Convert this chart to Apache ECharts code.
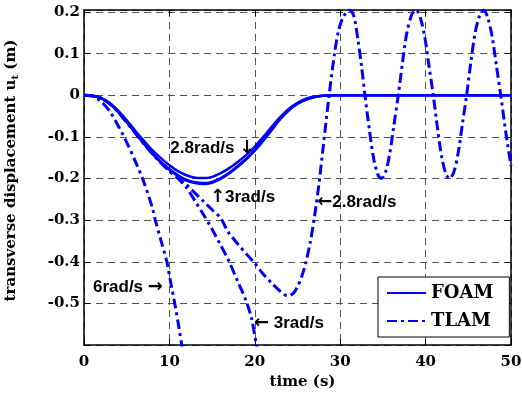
<!DOCTYPE html>
<html>
<head>
<meta charset="UTF-8">
<title>displacement</title>
<script type="text/javascript" src="https://cdn.jsdelivr.net/npm/echarts@6/dist/echarts.min.js"></script>
</head>
<body style="margin:0">
<div id="main" style="width: 522px; height: 396px"></div>

<script type="text/javascript">
	// FOAM, solid lines [time, ut]
	var foam28 = [[0,0],[1,-0.001],[2,-0.006],[3,-0.018],[4,-0.037],[5,-0.06],[6,-0.085],[7,-0.109],[8,-0.132],[9,-0.151],[10,-0.168],[11,-0.182],[12,-0.192],[13,-0.198],[14,-0.199],[15,-0.196],[16,-0.187],[17,-0.175],[18,-0.16],[19,-0.143],[20,-0.123],[21,-0.1],[22,-0.075],[23,-0.052],[24,-0.032],[25,-0.018],[26,-0.008],[27,-0.003],[28,-0.001],[29,0],[35,0],[40,0],[45,0],[50,0]];
	var foam6 = [[0,0],[1,-0.001],[2,-0.007],[3,-0.02],[4,-0.04],[5,-0.064],[6,-0.09],[7,-0.115],[8,-0.139],[9,-0.16],[10,-0.177],[11,-0.192],[12,-0.203],[13,-0.209],[14,-0.211],[15,-0.208],[16,-0.199],[17,-0.186],[18,-0.17],[19,-0.152],[20,-0.131],[21,-0.107],[22,-0.081],[23,-0.055],[24,-0.035],[25,-0.02],[26,-0.01],[27,-0.004],[28,-0.001],[29,0],[35,0],[40,0],[45,0],[50,0]];
	var foam3 = [[0,0],[1,-0.001],[2,-0.007],[3,-0.02],[4,-0.04],[5,-0.064],[6,-0.09],[7,-0.116],[8,-0.14],[9,-0.161],[10,-0.179],[11,-0.194],[12,-0.205],[13,-0.211],[14,-0.213],[15,-0.21],[16,-0.201],[17,-0.188],[18,-0.172],[19,-0.154],[20,-0.133],[21,-0.109],[22,-0.083],[23,-0.057],[24,-0.036],[25,-0.02],[26,-0.01],[27,-0.004],[28,-0.001],[29,0],[35,0],[40,0],[45,0],[50,0]];

	// TLAM, dash-dot lines
	var tlam28 = [[0,0],[1,-0.001],[2,-0.007],[3,-0.02],[4,-0.04],[5,-0.065],[6,-0.09],[7,-0.116],[8,-0.14],[9,-0.162],[10,-0.181],[11,-0.198],[12,-0.215],[13,-0.235],[14,-0.255],[15,-0.275],[16,-0.295],[16.7,-0.322],[17,-0.332],[18,-0.357],[19,-0.381],[20,-0.404],[21,-0.43],[22,-0.452],[23,-0.471],[23.85,-0.482],[24.5,-0.476],[25,-0.46],[25.5,-0.435],[26,-0.4],[26.5,-0.352],[27,-0.29],[27.5,-0.215],[28,-0.125],[28.7,0],[29.3,0.095],[29.8,0.155],[30.4,0.19],[31.1,0.205],[31.6,0.19],[32.1,0.13],[32.5,0.07],[32.9,0],[33.4,-0.08],[33.9,-0.15],[34.4,-0.19],[34.8,-0.2],[35.3,-0.185],[35.8,-0.14],[36.3,-0.07],[36.8,0],[37.3,0.08],[37.8,0.15],[38.4,0.195],[38.9,0.205],[39.4,0.185],[39.9,0.14],[40.4,0.07],[40.9,0],[41.4,-0.08],[41.9,-0.15],[42.4,-0.19],[42.8,-0.2],[43.3,-0.185],[43.8,-0.14],[44.3,-0.07],[44.8,0],[45.3,0.08],[45.8,0.15],[46.3,0.19],[46.8,0.205],[47.3,0.185],[47.8,0.14],[48.3,0.07],[48.8,0],[49.4,-0.09],[50,-0.17]];
	var tlam3 = [[0,0],[1,-0.001],[2,-0.007],[3,-0.02],[4,-0.04],[5,-0.065],[6,-0.09],[7,-0.116],[8,-0.14],[9,-0.162],[10,-0.182],[11,-0.2],[12,-0.222],[13,-0.254],[14,-0.287],[15,-0.322],[16,-0.36],[17,-0.4],[18,-0.447],[19,-0.495],[19.6,-0.535],[20.2,-0.6],[20.6,-0.64]];
	var tlam6 = [[0,0],[1,-0.002],[2,-0.015],[3,-0.038],[4,-0.073],[5,-0.113],[6,-0.158],[7,-0.208],[8,-0.27],[8.35,-0.3],[9,-0.348],[9.7,-0.4],[10.2,-0.455],[10.65,-0.503],[11.1,-0.556],[11.45,-0.6],[11.8,-0.64]];

	// text labels: [text, time, ut] (left edge, middle); {a|..} is the arrow
	var notes = [
		['2.8rad/s {a|\u2193}', 10.1, -0.127],
		['{a|\u2191}3rad/s', 14.75, -0.245],
		['{a|\u2190}2.8rad/s', 27.3, -0.257],
		['6rad/s {a|\u2192}', 1.05, -0.461],
		['{a|\u2190} 3rad/s', 19.9, -0.548]
	];

	var serif = 'DejaVu Serif';
	var blue = '#0000ff';
	var gridDash = {color: '#555', width: 1, type: [7, 5]};

	function mkSeries(name, data, dashed) {
		return {
			name: name,
			type: 'line',
			data: data,
			symbol: 'none',
			smooth: 0.3,
			animation: false,
			lineStyle: {color: blue, width: dashed ? 3 : 2.5, type: dashed ? [10, 4, 3, 4] : 'solid'},
			itemStyle: {color: blue}
		};
	}

	var mychart = echarts.init(document.getElementById('main'));
	var option = {
		animation: false,
		grid: {left: 84, right: 11, top: 10, bottom: 51, outerBoundsMode: 'none'},
		legend: {
			data: ['FOAM', 'TLAM'],
			orient: 'vertical',
			left: 378, top: 277,
			padding: [7, 16, 7, 8],
			itemWidth: 39, itemHeight: 14, itemGap: 10,
			backgroundColor: '#fff',
			borderColor: '#000', borderWidth: 1, borderRadius: 0,
			selectedMode: false,
			itemStyle: {color: 'rgba(0,0,0,0)', borderWidth: 0, opacity: 0},
			textStyle: {fontFamily: serif, fontWeight: 'bold', fontSize: 18, color: '#000'}
		},
		xAxis: [{
			type: 'value', min: 0, max: 50, interval: 10,
			name: 'time (s)', nameLocation: 'middle', nameGap: 20,
			nameTextStyle: {fontFamily: serif, fontWeight: 'bold', fontSize: 15, color: '#000', padding: [0, 0, 0, 10]},
			axisLine: {onZero: false, lineStyle: {color: '#000', width: 1.5}},
			axisTick: {inside: true, length: 6, lineStyle: {color: '#000'}},
			axisLabel: {margin: 10, fontFamily: serif, fontWeight: 'bold', fontSize: 15, color: '#000'},
			splitLine: {show: true, lineStyle: gridDash}
		}, {
			type: 'value', position: 'top', min: 0, max: 50, interval: 10,
			axisLine: {onZero: false, lineStyle: {color: '#000', width: 1.5}},
			axisTick: {inside: true, length: 6, lineStyle: {color: '#000'}},
			axisLabel: {show: false}, splitLine: {show: false}
		}],
		yAxis: [{
			type: 'value', min: -0.6, max: 0.205, interval: 0.1,
			name: 'transverse displacement u{sub|t} (m)', nameLocation: 'middle', nameGap: 64,
			nameTextStyle: {
				fontFamily: serif, fontWeight: 'bold', fontSize: 15, color: '#000', lineHeight: 18,
				padding: [0, 0, 0, 14],
				rich: {sub: {fontFamily: serif, fontWeight: 'bold', fontSize: 10, color: '#000', verticalAlign: 'bottom', lineHeight: 18}}
			},
			axisLine: {onZero: false, lineStyle: {color: '#000', width: 1.5}},
			axisTick: {inside: true, length: 6, lineStyle: {color: '#000'}},
			axisLabel: {
				margin: 4, fontFamily: serif, fontWeight: 'bold', fontSize: 15, color: '#000',
				showMaxLabel: false,
				formatter: function (v) { return Math.abs(v + 0.6) < 1e-6 ? '' : String(Math.round(v * 10) / 10); }
			},
			splitLine: {show: true, lineStyle: gridDash}
		}, {
			type: 'value', position: 'right', min: -0.6, max: 0.205, interval: 0.1,
			axisLine: {onZero: false, lineStyle: {color: '#000', width: 1.5}},
			axisTick: {inside: true, length: 6, lineStyle: {color: '#000'}},
			axisLabel: {show: false}, splitLine: {show: false}
		}],
		series: [
			mkSeries('FOAM', foam28, false),
			mkSeries('FOAM', foam6, false),
			mkSeries('FOAM', foam3, false),
			mkSeries('TLAM', tlam28, true),
			mkSeries('TLAM', tlam3, true),
			mkSeries('TLAM', tlam6, true)
		]
	};
	mychart.setOption(option);

	// place the speed labels from data coordinates
	var texts = notes.map(function (n) {
		var p = mychart.convertToPixel({seriesIndex: 0}, [n[1], n[2]]);
		return {
			type: 'text', x: p[0], y: p[1], z: 100,
			style: {
				text: n[0], fill: '#000', fontFamily: 'Liberation Sans', fontWeight: 'bold', fontSize: 17, verticalAlign: 'middle',
				rich: {a: {fontFamily: 'DejaVu Sans', fontWeight: 'bold', fontSize: 18, fill: '#000'}}
			}
		};
	});
	mychart.setOption({graphic: texts});
</script>
</body>
</html>
